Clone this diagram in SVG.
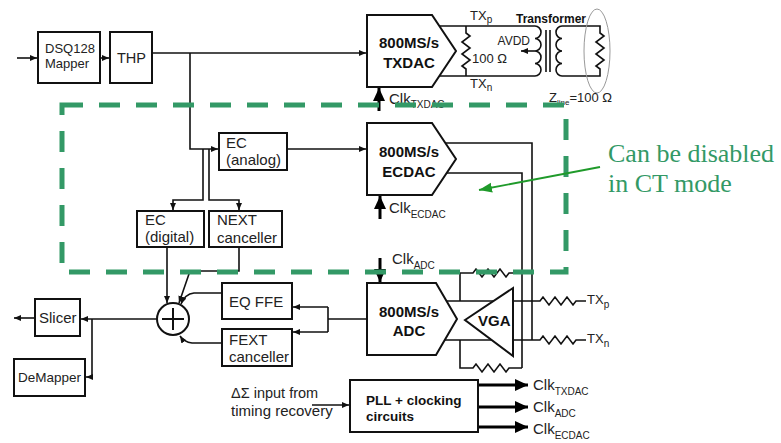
<svg xmlns="http://www.w3.org/2000/svg" width="781" height="443" viewBox="0 0 781 443">
<style>
.box{fill:#fff;stroke:#111;stroke-width:2}
.w{fill:none;stroke:#111;stroke-width:1.6}
.t{font-family:"Liberation Sans",Arial,sans-serif;font-size:15px;fill:#222}
.s{font-family:"Liberation Sans",Arial,sans-serif;font-size:13px;fill:#222}
.b{font-family:"Liberation Sans",Arial,sans-serif;font-size:15px;font-weight:bold;fill:#111}
.sub{font-size:10px}
.thick{fill:none;stroke:#000;stroke-width:3}
.green{fill:none;stroke:#339966;stroke-width:5;stroke-dasharray:21 16}
.note{font-family:"Liberation Serif","Times New Roman",serif;font-size:26px;fill:#339966}
</style>
<defs>
<marker id="a" markerWidth="8" markerHeight="8" refX="7" refY="4" orient="auto" markerUnits="userSpaceOnUse"><path d="M0,1 L7,4 L0,7 z" fill="#111"/></marker>
<marker id="A" markerWidth="14" markerHeight="12" refX="13" refY="6" orient="auto" markerUnits="userSpaceOnUse"><path d="M0,0 L13,6 L0,12 z" fill="#000"/></marker>
<marker id="g" markerWidth="14" markerHeight="12" refX="13" refY="6" orient="auto" markerUnits="userSpaceOnUse"><path d="M0,1 L13,6 L0,11 z" fill="#1f9a2a"/></marker>
</defs>

<g id="connectors">
<path class="w" d="M17,58 H37" marker-end="url(#a)"/>
<path class="w" d="M100,58 H109" marker-end="url(#a)"/>
<path class="w" d="M152,53 H366" marker-end="url(#a)"/>
<path class="w" d="M190,53 V149 H218" marker-end="url(#a)"/>
<path class="w" d="M203,149 V200 H173 V210" marker-end="url(#a)"/>
<path class="w" d="M209,149 V200 H239 V210" marker-end="url(#a)"/>
<path class="w" d="M287,149 H366" marker-end="url(#a)"/>
<path class="w" d="M167,247 V303" marker-end="url(#a)"/>
<path class="w" d="M239,247 V271 H190 L179,303" marker-end="url(#a)"/>
<path class="w" d="M222,293 H194 Q185,294 181,304" marker-end="url(#a)"/>
<path class="w" d="M222,343 H192 Q184,342 180,336" marker-end="url(#a)"/>
<path class="w" d="M367,319 H328 M328,307 V332"/>
<path class="w" d="M328,307 H293" marker-end="url(#a)"/>
<path class="w" d="M328,332 H293" marker-end="url(#a)"/>
<path class="w" d="M157,319 H81" marker-end="url(#a)"/>
<path class="w" d="M35,318 H14" marker-end="url(#a)"/>
<path class="w" d="M92,319 V377 H86" marker-end="url(#a)"/>
<path class="w" d="M312,405 H349" marker-end="url(#a)"/>
<path class="thick" d="M478,385 H528" marker-end="url(#A)"/>
<path class="thick" d="M478,407 H528" marker-end="url(#A)"/>
<path class="thick" d="M478,427 H528" marker-end="url(#A)"/>
<path class="thick" d="M379,111 V88" marker-end="url(#A)"/>
<path class="thick" d="M380,219 V196" marker-end="url(#A)"/>
<path class="thick" d="M380,258 V282" marker-end="url(#A)"/>
<!-- TX output network -->
<path class="w" d="M439,26 H535 M439,76 H535"/>
<path class="w" d="M466,26 V33 l4,3 l-8,6 l8,6 l-8,6 l8,6 l-8,6 l4,3 V76"/>
<path class="w" d="M535,26 a6,6.25 0 0 1 0,12.5 a6,6.25 0 0 1 0,12.5 a6,6.25 0 0 1 0,12.5 a6,6.25 0 0 1 0,12.5"/>
<path class="w" d="M535,51 H521" marker-end="url(#a)"/>
<path class="w" d="M546,30 V72 M550,30 V72"/>
<path class="w" d="M562,26 a6,6.25 0 0 0 0,12.5 a6,6.25 0 0 0 0,12.5 a6,6.25 0 0 0 0,12.5 a6,6.25 0 0 0 0,12.5"/>
<path class="w" d="M562,26 H600 V33 l4,3 l-8,6 l8,6 l-8,6 l8,6 l-8,6 l4,3 V76 H562"/>
<ellipse cx="597" cy="51" rx="13" ry="42" fill="none" stroke="#999" stroke-width="1"/>
<!-- ECDAC outputs to receiver -->
<path class="w" d="M445,143 H532 V340"/>
<path class="w" d="M447,173 H522 V368"/>
<!-- VGA network -->
<path class="w" d="M445,301 H540 l3,-4 l6,8 l6,-8 l6,8 l6,-8 l6,8 l3,-4 H586"/>
<path class="w" d="M444,340 H540 l3,-4 l6,8 l6,-8 l6,8 l6,-8 l6,8 l3,-4 H586"/>
<path class="w" d="M460,301 V273 H473 l3,-4 l6,8 l6,-8 l6,8 l6,-8 l6,8 l3,-4 H522"/>
<path class="w" d="M460,340 V368 H473 l3,-4 l6,8 l6,-8 l6,8 l6,-8 l6,8 l3,-4 H522"/>
</g>

<g id="mapper"><rect class="box" x="38" y="32" width="62" height="51"/><text class="s" x="45" y="53">DSQ128</text><text class="s" x="45" y="68">Mapper</text></g>
<g id="thp"><rect class="box" x="110" y="32" width="42" height="51"/><text class="t" x="117" y="63" style="font-size:14.5px">THP</text></g>
<g id="txdac"><path class="box" d="M367,15 H432 L456,51 L432,87 H367 Z"/><text class="b" x="409" y="48" text-anchor="middle">800MS/s</text><text class="b" x="409" y="68" text-anchor="middle">TXDAC</text></g>
<g id="ecdac"><path class="box" d="M367,123 H432 L456,159 L432,195 H367 Z"/><text class="b" x="409" y="157" text-anchor="middle">800MS/s</text><text class="b" x="409" y="177" text-anchor="middle">ECDAC</text></g>
<g id="adc"><path class="box" d="M367,283 H436 L457,319 L436,355 H367 Z"/><text class="b" x="409" y="317" text-anchor="middle">800MS/s</text><text class="b" x="409" y="336" text-anchor="middle">ADC</text></g>
<g id="vga"><path class="box" d="M465,320 L513,288 V356 Z"/><text class="b" x="478" y="326">VGA</text></g>
<g id="ec-analog"><rect class="box" x="219" y="133" width="68" height="37"/><text class="t" x="226" y="148">EC</text><text class="t" x="226" y="165">(analog)</text></g>
<g id="ec-digital"><rect class="box" x="137" y="211" width="67" height="36"/><text class="t" x="145" y="225">EC</text><text class="t" x="145" y="242">(digital)</text></g>
<g id="next"><rect class="box" x="209" y="211" width="73" height="36"/><text class="t" x="217" y="225">NEXT</text><text class="t" x="217" y="243">canceller</text></g>
<g id="adder"><circle cx="173" cy="319" r="16" fill="#fff" stroke="#111" stroke-width="2"/><path class="w" d="M162,319 H184 M173,308 V330" style="stroke-width:2"/></g>
<g id="eqffe"><rect class="box" x="222" y="283" width="70" height="36"/><text class="t" x="229" y="307">EQ FFE</text></g>
<g id="fext"><rect class="box" x="222" y="329" width="70" height="37"/><text class="t" x="229" y="345">FEXT</text><text class="t" x="229" y="362">canceller</text></g>
<g id="slicer"><rect class="box" x="35" y="299" width="45" height="37"/><text class="t" x="39" y="323">Slicer</text></g>
<g id="demapper"><rect class="box" x="14" y="359" width="71" height="37"/><text class="t" x="18" y="382" style="font-size:13.5px">DeMapper</text></g>
<g id="pll"><rect class="box" x="350" y="380" width="128" height="52"/><text class="b" x="366" y="405" style="font-size:13.5px">PLL + clocking</text><text class="b" x="366" y="421" style="font-size:13.5px">circuits</text></g>

<g id="labels">
<text class="t" x="231" y="398" style="font-size:14.5px">ΔΣ input from</text>
<text class="t" x="231" y="416">timing recovery</text>
<text class="t" x="533" y="390">Clk<tspan class="sub" dy="5">TXDAC</tspan></text>
<text class="t" x="533" y="412">Clk<tspan class="sub" dy="5">ADC</tspan></text>
<text class="t" x="533" y="434">Clk<tspan class="sub" dy="5">ECDAC</tspan></text>
<text class="t" x="389" y="104">Clk<tspan class="sub" dy="4">TXDAC</tspan></text>
<text class="t" x="389" y="213">Clk<tspan class="sub" dy="5">ECDAC</tspan></text>
<text class="t" x="392" y="264">Clk<tspan class="sub" dy="5">ADC</tspan></text>
<text class="s" x="470" y="20">TX<tspan class="sub" dy="3">p</tspan></text>
<text class="s" x="470" y="88">TX<tspan class="sub" dy="3">n</tspan></text>
<text class="s" x="472" y="63">100 Ω</text>
<text class="s" x="530" y="45" text-anchor="end" style="font-size:12px">AVDD</text>
<text class="b" x="516" y="23" style="font-size:12px">Transformer</text>
<text class="s" x="549" y="102">Z<tspan dy="3" style="font-size:8px">line</tspan><tspan dy="-3">=100 Ω</tspan></text>
<text class="s" x="587" y="304">TX<tspan class="sub" dy="4">p</tspan></text>
<text class="s" x="587" y="343">TX<tspan class="sub" dy="4">n</tspan></text>
</g>

<g id="disabled-region">
<rect class="green" x="62" y="105" width="504" height="167"/>
<text class="note" x="608" y="162">Can be disabled</text>
<text class="note" x="608" y="192">in CT mode</text>
<path d="M600,167 L479,190" fill="none" stroke="#1f9a2a" stroke-width="1.8" marker-end="url(#g)"/>
</g>
</svg>
